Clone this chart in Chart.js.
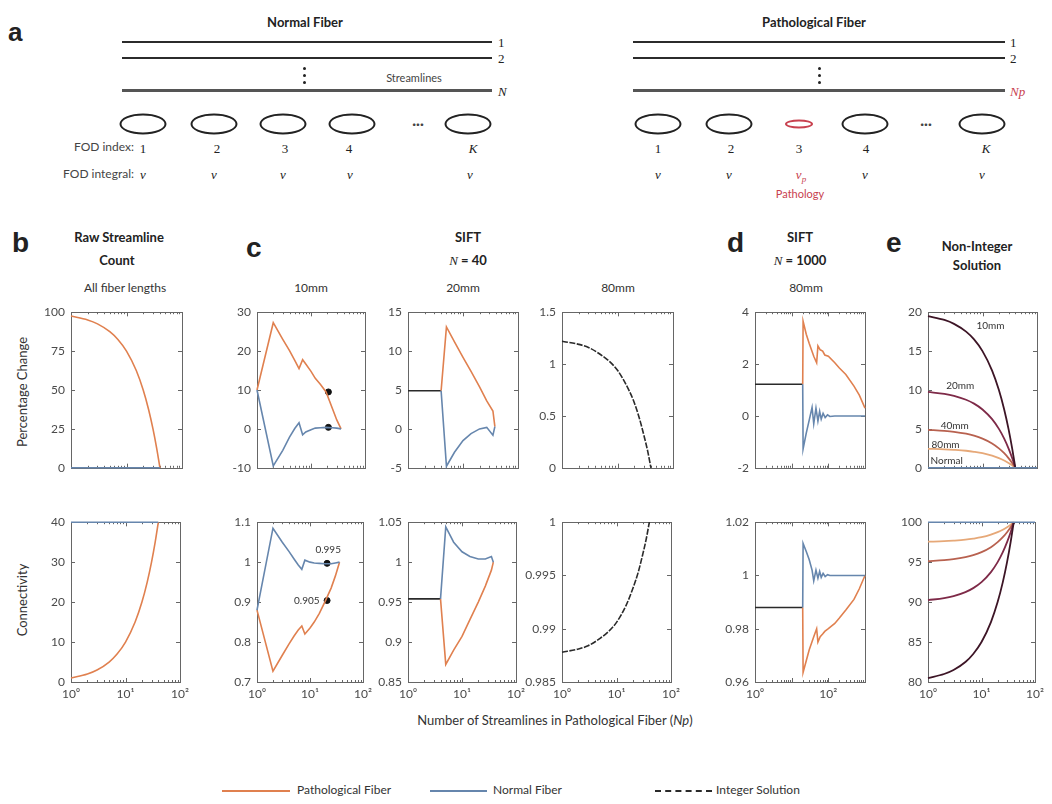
<!DOCTYPE html>
<html>
<head>
<meta charset="utf-8">
<script src="https://cdn.jsdelivr.net/npm/chart.js@4.4.0/dist/chart.umd.min.js"></script>
<style>
body{margin:0;background:#fff;width:1052px;height:804px;position:relative;overflow:hidden;font-family:Lato,"Open Sans",sans-serif;color:#222}
.t{position:absolute;white-space:nowrap;transform:translate(-50%,-50%);line-height:1}
.r{position:absolute;white-space:nowrap;transform:translate(-100%,-50%);line-height:1}
.l{position:absolute;white-space:nowrap;transform:translate(0,-50%);line-height:1}
.bold{font-weight:bold;font-size:13px}
.letter{font-family:"Liberation Sans",Arial,sans-serif;font-weight:bold;font-size:28px}
.serif{font-family:"Liberation Serif","DejaVu Serif",serif;font-size:13px}
.it{font-style:italic}
.ln{position:absolute;height:2px;background:#2b2b2b}
.ell{position:absolute;border:2px solid #222;border-radius:50%;box-sizing:border-box;transform:translate(-50%,-50%)}
.dot{position:absolute;width:3px;height:3px;background:#222;border-radius:50%}
.red{color:#c8414f}
.sub{font-size:11px;color:#444}
canvas{position:absolute}
.ylab{position:absolute;transform:translate(-50%,-50%) rotate(-90deg);white-space:nowrap;font-size:13px;color:#333}
.leg{position:absolute;height:0;border-top:2px solid}
</style>
</head>
<body>
<div id="root"></div>
<script>
// ---- data (Np = number of streamlines in the pathological fiber) ----
const npFull = [1, 2, 3, 5, 7, 10, 15, 20, 25, 30, 35, 40];

// b: raw streamline count, all fiber lengths
const rawPctPatho = [97.5, 95, 92.5, 87.5, 82.5, 75, 62.5, 50, 37.5, 25, 12.5, 0];
const rawPctNormal = [0, 0, 0, 0, 0, 0, 0, 0, 0, 0, 0, 0];
const rawConnPatho = [1, 2, 3, 5, 7, 10, 15, 20, 25, 30, 35, 40];
const rawConnNormal = [40, 40, 40, 40, 40, 40, 40, 40, 40, 40, 40, 40];

// c: SIFT N = 40, 10mm
const np10 = [1, 2, 3, 4, 5, 6, 7, 8, 10, 12, 15, 19, 25, 30, 36];
const pct10Patho = [10, 27.3, 23, 20.1, 17.6, 15.5, 17.8, 16.7, 14.8, 13, 11.4, 9.5, 5.2, 2.3, 0];
const pct10Normal = [10, -9.5, -5.5, -2.1, 0.1, 1.6, -1.5, -0.8, -0.2, 0.2, 0.3, 0.4, 0.3, 0.2, 0];
const conn10Patho = [0.88, 0.727, 0.767, 0.795, 0.815, 0.83, 0.84, 0.82, 0.835, 0.85, 0.872, 0.9, 0.935, 0.965, 1.0];
const conn10Normal = [0.88, 1.085, 1.05, 1.027, 1.008, 0.993, 0.982, 1.005, 1.0, 0.998, 0.997, 0.996, 0.996, 0.998, 1.0];
const mark10Np = [21, 21];
const mark10Pct = [9.5, 0.4];
const mark10Conn = [0.997, 0.904];

// c: SIFT N = 40, 20mm
const npFlat20 = [1, 4];
const pctFlat20 = [4.9, 4.9];
const connFlat20 = [0.954, 0.954];
const np20 = [4, 5, 7, 10, 14, 20, 27, 35, 38];
const pct20Patho = [4.9, 13.1, 11.2, 9.2, 7.4, 5.4, 3.6, 2.3, 0.3];
const pct20Normal = [4.9, -4.8, -3, -1.5, -0.6, 0, 0.2, -0.8, 0.3];
const conn20Patho = [0.954, 0.872, 0.89, 0.907, 0.928, 0.95, 0.97, 0.99, 1.0];
const conn20Normal = [0.954, 1.044, 1.025, 1.013, 1.007, 1.004, 1.004, 1.007, 1.0];

// c: SIFT N = 40, 80mm (integer solution)
const pct80 = [1.22, 1.19, 1.16, 1.09, 1.03, 0.94, 0.78, 0.63, 0.47, 0.31, 0.16, 0];
const conn80 = [0.9878, 0.9881, 0.9884, 0.9891, 0.9897, 0.9906, 0.9922, 0.9938, 0.9953, 0.9969, 0.9984, 1.0];

// d: SIFT N = 1000, 80mm
const npFlatD = [1, 20];
const pctFlatD = [1.22, 1.22];
const connFlatD = [0.988, 0.988];
const npDPatho = [20, 20.5, 25, 30, 40, 48, 52, 60, 70, 80, 100, 150, 200, 300, 500, 700, 1000];
const pctDPatho = [1.22, 3.65, 3.15, 2.8, 2.3, 2.05, 2.7, 2.55, 2.5, 2.35, 2.3, 2.05, 1.85, 1.6, 1.15, 0.8, 0.3];
const connDPatho = [0.988, 0.9636, 0.968, 0.972, 0.977, 0.98, 0.975, 0.977, 0.978, 0.979, 0.98, 0.982, 0.984, 0.987, 0.991, 0.995, 1.0];
const npDNormal = [20, 20.5, 25, 30, 36, 40, 46, 52, 58, 64, 72, 82, 95, 110, 150, 1000];
const pctDNormal = [1.22, -1.27, -0.66, -0.17, 0.33, -0.3, 0.3, -0.2, 0.18, -0.12, 0.1, -0.06, 0.04, -0.02, 0, 0];
const connDNormal = [0.988, 1.012, 1.009, 1.006, 1.002, 0.998, 1.002, 0.999, 1.0015, 0.9993, 1.0008, 0.9996, 1.0003, 1.0, 1.0, 1.0];

// e: non-integer solution, one curve per fiber length
const eLabels = ['10mm', '20mm', '40mm', '80mm', 'Normal'];
const ePct10 = [19.5, 19, 18.5, 17.5, 16.5, 15, 12.5, 10, 7.5, 5, 2.5, 0];
const ePct20 = [9.75, 9.5, 9.25, 8.75, 8.25, 7.5, 6.25, 5, 3.75, 2.5, 1.25, 0];
const ePct40 = [4.88, 4.75, 4.63, 4.38, 4.13, 3.75, 3.13, 2.5, 1.88, 1.25, 0.63, 0];
const ePct80 = [2.44, 2.38, 2.31, 2.19, 2.06, 1.88, 1.56, 1.25, 0.94, 0.63, 0.31, 0];
const eConn10 = [80.5, 81, 81.5, 82.5, 83.5, 85, 87.5, 90, 92.5, 95, 97.5, 100];
const eConn20 = [90.25, 90.5, 90.75, 91.25, 91.75, 92.5, 93.75, 95, 96.25, 97.5, 98.75, 100];
const eConn40 = [95.12, 95.25, 95.37, 95.62, 95.87, 96.25, 96.87, 97.5, 98.12, 98.75, 99.37, 100];
const eConn80 = [97.56, 97.62, 97.69, 97.81, 97.94, 98.12, 98.44, 98.75, 99.06, 99.37, 99.69, 100];
const npNormalE = [1, 100];
const ePctNormal = [0, 0];
const eConnNormal = [100, 100];

// ---- colours ----
const ORANGE = '#e0804f';
const BLUE = '#6686ad';
const BLACK = '#2a2a2a';
const eColors = ['#3d1526', '#7e2a48', '#b8614f', '#e6a878'];

// ---- helpers ----
const root = document.getElementById('root');
function put(cls, x, y, html, style) {
    let d = document.createElement('div');
    d.className = cls;
    d.style.left = x + 'px';
    d.style.top = y + 'px';
    if (style) d.style.cssText += style;
    d.innerHTML = html;
    root.appendChild(d);
    return d;
}
function pairs(xs, ys) {
    return xs.map((x, i) => ({x: x, y: ys[i]}));
}
function line(xs, ys, color, extra) {
    return Object.assign({
        data: pairs(xs, ys), borderColor: color, borderWidth: 1.6,
        pointRadius: 0, fill: false, tension: 0, clip: false
    }, extra || {});
}
function smooth(xs, ys, color, extra) {
    return line(xs, ys, color, Object.assign({cubicInterpolationMode: 'monotone'}, extra || {}));
}

// box with inward ticks, MATLAB style (drawn under the data lines)
const boxTicks = {
    id: 'boxTicks',
    beforeDatasetsDraw(chart) {
        const {ctx, chartArea: a, scales: {x, y}} = chart;
        ctx.save();
        ctx.strokeStyle = '#666';
        ctx.lineWidth = 1;
        ctx.strokeRect(Math.round(a.left) + 0.5, Math.round(a.top) + 0.5,
            Math.round(a.right - a.left), Math.round(a.bottom - a.top));
        ctx.beginPath();
        y.ticks.forEach(t => {
            let p = Math.round(y.getPixelForValue(t.value)) + 0.5;
            ctx.moveTo(a.left, p); ctx.lineTo(a.left + 4, p);
            ctx.moveTo(a.right, p); ctx.lineTo(a.right - 4, p);
        });
        for (let d = Math.round(Math.log10(x.min)); d < Math.round(Math.log10(x.max)); d++) {
            for (let k = 1; k <= 10; k++) {
                let v = k * Math.pow(10, d);
                let p = Math.round(x.getPixelForValue(v)) + 0.5;
                let len = (k === 1 || k === 10) ? 4 : 2;
                ctx.moveTo(p, a.bottom); ctx.lineTo(p, a.bottom - len);
                ctx.moveTo(p, a.top); ctx.lineTo(p, a.top + len);
            }
        }
        ctx.stroke();
        ctx.restore();
    }
};

// text notes placed in data coordinates
const notes = {
    id: 'notes',
    afterDatasetsDraw(chart, args, opts) {
        const items = opts.items || [];
        if (!items.length) return;
        const {ctx, scales: {x, y}} = chart;
        ctx.save();
        ctx.font = '10px Lato, sans-serif';
        ctx.textAlign = 'center';
        ctx.textBaseline = 'middle';
        items.forEach(n => {
            ctx.fillStyle = n.color || '#333';
            ctx.fillText(n.text, x.getPixelForValue(n.x), y.getPixelForValue(n.y));
        });
        ctx.restore();
    }
};
Chart.register(boxTicks, notes);

const SUP = {'1': '10\u2070', '10': '10\u00b9', '100': '10\u00b2', '1000': '10\u00b3'};
const L = 45, T = 8, R = 12;

function panel(px, py, pw, ph, bottom, xr, yr, datasets, items) {
    const B = bottom ? 24 : 8;
    const c = document.createElement('canvas');
    c.width = pw + L + R;
    c.height = ph + T + B;
    c.style.left = (px - L) + 'px';
    c.style.top = (py - T) + 'px';
    root.appendChild(c);
    new Chart(c, {
        type: 'line',
        data: {datasets: datasets},
        options: {
            responsive: false, animation: false, devicePixelRatio: 1,
            layout: {padding: {top: T, right: R, left: 0, bottom: 0}},
            plugins: {legend: {display: false}, tooltip: {enabled: false}, notes: {items: items || []}},
            scales: {
                x: {
                    type: 'logarithmic', min: xr[0], max: xr[1],
                    grid: {display: false, drawTicks: false}, border: {display: false},
                    afterFit: s => { s.height = B; },
                    ticks: {
                        display: bottom, autoSkip: false, maxRotation: 0, padding: 5,
                        color: '#4a4a4a', font: {size: 12, family: 'Lato'},
                        callback: v => (xr[2] || [1, 10, 100]).includes(v) ? SUP[v] : ''
                    }
                },
                y: {
                    min: yr[0], max: yr[1],
                    grid: {display: false, drawTicks: false}, border: {display: false},
                    afterFit: s => { s.width = L; },
                    ticks: {
                        stepSize: yr[2], padding: 6, color: '#4a4a4a', font: {size: 12, family: 'Lato'},
                        callback: v => String(parseFloat(v.toFixed(4)))
                    }
                }
            }
        }
    });
}

// ---- panel a (schematic) ----
put('letter l', 8, 32, 'a', 'font-size:26px');
put('bold t', 305, 22, 'Normal Fiber');
put('bold t', 814, 22, 'Pathological Fiber');
[[122, 492, 498], [633, 1005, 1010]].forEach(([x0, x1, lx]) => {
    [41, 57].forEach(y => put('ln', x0, y, '', 'width:' + (x1 - x0) + 'px'));
    put('ln', x0, 89, '', 'height:3px;background:#555;width:' + (x1 - x0) + 'px');
    put('serif l', lx, 42, '1');
    put('serif l', lx, 58, '2');
});
put('serif it l', 498, 91, 'N');
put('serif it l red', 1010, 91, 'Np');
[304, 819].forEach(x => [67, 74, 81].forEach(y => put('dot', x - 1, y, '')));
put('t sub', 414, 77, 'Streamlines');

const ellN = [143, 214, 283, 352, 468];
const ellP = [658, 729, 799, 865, 982];
ellN.forEach(x => put('ell', x, 124, '', 'width:47px;height:21px'));
ellP.forEach((x, i) => {
    if (i === 2) put('ell', x, 124, '', 'width:28px;height:9px;border-color:#c8414f');
    else put('ell', x, 124, '', 'width:47px;height:21px');
});
put('t', 418, 124, '&middot;&middot;&middot;', 'font-size:14px;font-weight:bold;color:#444');
put('t', 926, 124, '&middot;&middot;&middot;', 'font-size:14px;font-weight:bold;color:#444');

put('r', 134, 147, 'FOD index:', 'font-size:12px;color:#444');
put('r', 134, 174, 'FOD integral:', 'font-size:12px;color:#444');
const idxLab = ['1', '2', '3', '4', '<i>K</i>'];
const idxN = [143, 217, 285, 349, 473];
const idxP = [658, 731, 799, 866, 986];
idxN.forEach((x, i) => put('serif t', x, 148, idxLab[i]));
idxP.forEach((x, i) => put('serif t', x, 148, idxLab[i]));
[143, 214, 283, 350, 470].forEach(x => put('serif it t', x, 174, 'v'));
[658, 729, 865, 982].forEach(x => put('serif it t', x, 174, 'v'));
put('serif it t red', 801, 176, 'v<sub style="font-size:9px">p</sub>');
put('t red', 800, 193, 'Pathology', 'font-size:11px');

// ---- titles for b-e ----
put('letter l', 12, 243, 'b');
put('bold t', 119, 237, 'Raw Streamline');
put('bold t', 117, 260, 'Count');
put('t', 125, 288, 'All fiber lengths', 'font-size:12px;color:#333');
put('letter l', 246, 248, 'c');
put('bold t', 468, 237, 'SIFT');
put('bold t', 468, 260, '<span class="serif it" style="font-weight:normal">N</span> = 40');
put('t', 311, 288, '10mm', 'font-size:12px;color:#333');
put('t', 463, 288, '20mm', 'font-size:12px;color:#333');
put('t', 618, 288, '80mm', 'font-size:12px;color:#333');
put('letter l', 727, 243, 'd');
put('bold t', 800, 237, 'SIFT');
put('bold t', 800, 260, '<span class="serif it" style="font-weight:normal">N</span> = 1000');
put('t', 806, 288, '80mm', 'font-size:12px;color:#333');
put('letter l', 886, 243, 'e');
put('bold t', 977, 246, 'Non-Integer');
put('bold t', 977, 265, 'Solution');

put('ylab', 22, 392, 'Percentage Change');
put('ylab', 22, 600, 'Connectivity');
put('t', 555, 720, 'Number of Streamlines in Pathological Fiber (<i>Np</i>)', 'font-size:13px;color:#333');

// legend
put('leg', 222, 790, '', 'width:68px;border-color:' + ORANGE);
put('l', 297, 790, 'Pathological Fiber', 'font-size:12px;color:#333');
put('leg', 430, 790, '', 'width:57px;border-color:' + BLUE);
put('l', 493, 790, 'Normal Fiber', 'font-size:12px;color:#333');
put('leg', 655, 790, '', 'width:57px;border-top:2px dashed ' + BLACK);
put('l', 716, 790, 'Integer Solution', 'font-size:12px;color:#333');

// ---- charts ----
const TY = 307, TH = 166, BY = 517, BH = 165;
const X2 = [1, 100];
const dash = {borderDash: [6, 1.5]};
const marks = (xs, ys) => ({data: pairs(xs, ys), showLine: false, pointRadius: 3,
    pointBackgroundColor: '#111', pointBorderColor: '#111'});

// b
panel(71, TY, 111, TH, false, X2, [0, 100, 25], [
    smooth(npFull, rawPctNormal, BLUE),
    smooth(npFull, rawPctPatho, ORANGE)
]);
panel(71, BY, 111, BH, true, X2, [0, 40, 10], [
    smooth(npFull, rawConnNormal, BLUE),
    smooth(npFull, rawConnPatho, ORANGE)
]);

// c 10mm
panel(257, TY, 108, TH, false, X2, [-10, 30, 10], [
    line(np10, pct10Normal, BLUE),
    line(np10, pct10Patho, ORANGE),
    marks(mark10Np, mark10Pct)
]);
panel(257, BY, 108, BH, true, X2, [0.7, 1.1, 0.1], [
    line(np10, conn10Normal, BLUE),
    line(np10, conn10Patho, ORANGE),
    marks(mark10Np, mark10Conn)
], [{x: 22, y: 1.032, text: '0.995'}, {x: 8.7, y: 0.904, text: '0.905'}]);

// c 20mm
panel(408, TY, 110, TH, false, X2, [-5, 15, 5], [
    line(np20, pct20Normal, BLUE),
    line(np20, pct20Patho, ORANGE),
    line(npFlat20, pctFlat20, BLACK)
]);
panel(408, BY, 110, BH, true, X2, [0.85, 1.05, 0.05], [
    line(np20, conn20Normal, BLUE),
    line(np20, conn20Patho, ORANGE),
    line(npFlat20, connFlat20, BLACK)
]);

// c 80mm
panel(562, TY, 111, TH, false, X2, [0, 1.5, 0.5], [
    smooth(npFull, pct80, BLACK, dash)
]);
panel(562, BY, 111, BH, true, X2, [0.985, 1, 0.005], [
    smooth(npFull, conn80, BLACK, dash)
]);

// d
const XD = [1, 1000, [1, 100]];
panel(755, TY, 110, TH, false, XD, [-2, 4, 2], [
    line(npDNormal, pctDNormal, BLUE),
    line(npDPatho, pctDPatho, ORANGE),
    line(npFlatD, pctFlatD, BLACK)
]);
panel(755, BY, 110, BH, true, XD, [0.96, 1.02, 0.02], [
    line(npDNormal, connDNormal, BLUE),
    line(npDPatho, connDPatho, ORANGE),
    line(npFlatD, connFlatD, BLACK)
]);

// e
const ePct = [ePct10, ePct20, ePct40, ePct80];
const eConn = [eConn10, eConn20, eConn40, eConn80];
panel(928, TY, 109, TH, false, X2, [0, 20, 5],
    [line(npNormalE, ePctNormal, BLUE)].concat(ePct.map((ys, i) => smooth(npFull, ys, eColors[i], {borderWidth: 1.8}))),
    [{x: 14, y: 18.2, text: eLabels[0]}, {x: 3.9, y: 10.5, text: eLabels[1]},
     {x: 3.1, y: 5.4, text: eLabels[2]}, {x: 2.1, y: 3.0, text: eLabels[3]},
     {x: 2.2, y: 0.9, text: eLabels[4]}]);
panel(928, BY, 109, BH, true, X2, [80, 100, 5],
    [line(npNormalE, eConnNormal, BLUE)].concat(eConn.map((ys, i) => smooth(npFull, ys, eColors[i], {borderWidth: 1.8}))));
</script>
</body>
</html>
